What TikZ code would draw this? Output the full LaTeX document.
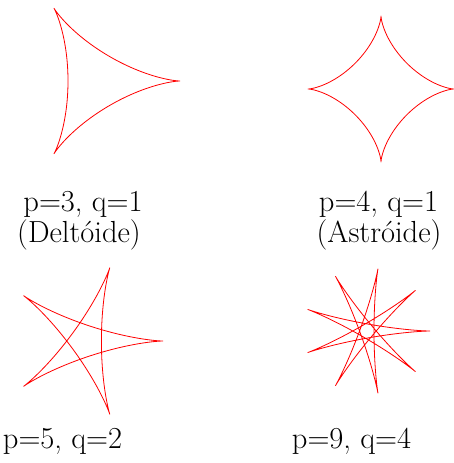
\documentclass[tikz,border=0pt]{standalone}
\usepackage{fontspec}
\setmainfont{Latin Modern Roman}
\tikzset{
  curve/.style={draw=red, line width=0.8bp, line join=round},
  lbl/.style={anchor=base, inner sep=0pt, font=\fontsize{30.5bp}{30.5bp}\selectfont}
}
\begin{document}
\begin{tikzpicture}[x=1bp,y=-1bp]
\useasboundingbox (0,0) rectangle (454,463);
% Deltoid p=3, q=1
\draw[curve] plot[domain=0:360, samples=361, variable=\t]
  ({96 + 84*(2/3*cos(\t) + 1/3*cos(2*\t))}, {81 + 84*(2/3*sin(\t) - 1/3*sin(2*\t))});
% Astroid p=4, q=1
\draw[curve] plot[domain=0:360, samples=361, variable=\t]
  ({381 + 73*(3/4*cos(\t) + 1/4*cos(3*\t))}, {89 + 73*(3/4*sin(\t) - 1/4*sin(3*\t))});
% p=5, q=2
\draw[curve] plot[domain=0:720, samples=721, variable=\t]
  ({86 + 77*(3/5*cos(\t) + 2/5*cos(1.5*\t))}, {341 + 77*(3/5*sin(\t) - 2/5*sin(1.5*\t))});
% p=9, q=4
\draw[curve] plot[domain=0:1440, samples=1441, variable=\t]
  ({367 + 63*(5/9*cos(\t) + 4/9*cos(1.25*\t))}, {331 + 63*(5/9*sin(\t) - 4/9*sin(1.25*\t))});
% labels
\node[lbl] (l1) at (83,212) {p=3, q=1};
\node[lbl] (l2) at (79,242) {(Deltóide)};
\node[lbl] (l3) at (378.5,212) {p=4, q=1};
\node[lbl] (l4) at (379,242) {(Astróide)};
\node[lbl] (l5) at (62.5,448) {p=5, q=2};
\node[lbl] (l6) at (351.5,448) {p=9, q=4};
\end{tikzpicture}
\end{document}
